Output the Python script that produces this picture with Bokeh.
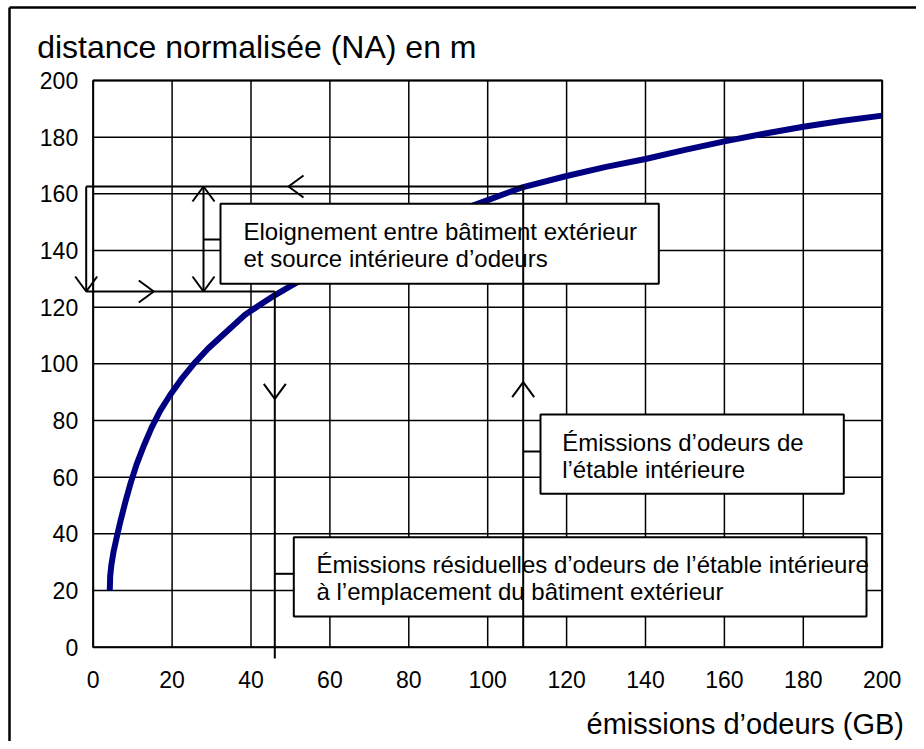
from bokeh.plotting import figure
from bokeh.models import Range1d, FixedTicker, Label
from bokeh.embed import file_html
from bokeh.resources import INLINE

# ---- data ----
emissions = [4.2, 4.3, 4.6, 5.2, 6.0, 7.0, 8.2, 9.5, 11.0, 12.8, 14.8, 17.0, 19.5,
             22.3, 25.5, 29.2, 33.5, 38.5, 42, 46, 50, 57, 65, 74, 84, 94, 100, 109,
             120, 130, 140, 150, 160, 170, 180, 190, 200]
distance = [20, 25, 29, 34, 39, 45, 51.5, 58, 64.5, 71, 77.5, 83.5, 89,
            94.5, 100, 105.5, 111, 117.3, 120.6, 124.2, 127.4, 133, 138.6, 144.2,
            149.6, 154.7, 157.8, 162.4, 166.3, 169.5, 172.3, 175.5, 178.5, 181.2,
            183.7, 185.8, 187.6]
x_ticks = [0, 20, 40, 60, 80, 100, 120, 140, 160, 180, 200]
y_ticks = [0, 20, 40, 60, 80, 100, 120, 140, 160, 180, 200]

title_text = "distance normalisée (NA) en m"
xlabel_text = "émissions d’odeurs (GB)"
box1_lines = ["Eloignement entre bâtiment extérieur", "et source intérieure d’odeurs"]
box2_lines = ["Émissions d’odeurs de", "l’étable intérieure"]
box3_lines = ["Émissions résiduelles d’odeurs de l’étable intérieure",
              "à l’emplacement du bâtiment extérieur"]

FONT = "Liberation Sans"
W, H = 916, 741

# pixel -> data helpers (layout only)
X0, XS, Y0, YS = 92.7, 3.945, 646.7, 2.8335
def dx(px):
    return (px - X0) / XS
def dy(py):
    return (Y0 - py) / YS

p = figure(width=W, height=H, x_range=Range1d(dx(0), dx(W)), y_range=Range1d(dy(H), dy(0)),
           output_backend="svg", toolbar_location=None, title=None, tools="",
           min_border_left=0, min_border_right=0, min_border_top=0, min_border_bottom=0)
p.background_fill_color = "white"
p.border_fill_color = "white"
p.outline_line_color = None
p.grid.visible = False

for ax, tk in ((p.xaxis[0], x_ticks), (p.yaxis[0], y_ticks)):
    ax.ticker = FixedTicker(ticks=tk)
    ax.fixed_location = 0
    ax.bounds = (0, 200)
    ax.major_tick_out = 0
    ax.major_tick_in = 0
    ax.minor_tick_out = 0
    ax.minor_tick_in = 0
    ax.axis_line_color = None
    ax.major_label_text_font = FONT
    ax.major_label_text_font_size = "23px"
    ax.major_label_text_color = "black"
p.xaxis[0].major_label_standoff = 24
p.yaxis[0].major_label_standoff = 15

# grid lines inside the 0..200 box
gx0 = [t for t in x_ticks] + [0 for t in y_ticks]
gx1 = [t for t in x_ticks] + [200 for t in y_ticks]
gy0 = [0 for t in x_ticks] + [t for t in y_ticks]
gy1 = [200 for t in x_ticks] + [t for t in y_ticks]
p.segment(gx0, gy0, gx1, gy1, line_color="black", line_width=1.5)

# curve
p.line(emissions, distance, line_color="#000080", line_width=6, line_join="round")

# plot-area border
p.quad(left=[0], right=[200], bottom=[0], top=[200], fill_color=None,
       line_color="black", line_width=2)

# boxes
bl = [dx(220), dx(540), dx(293.3)]
br = [dx(658.3), dx(843.3), dx(866)]
bt = [dy(203.3), dy(414), dy(536.7)]
bb = [dy(283.3), dy(493.3), dy(616)]
p.quad(left=bl, right=br, top=bt, bottom=bb, fill_color="white",
       line_color="black", line_width=2)

def lab(text, xp, yp, size="24px", baseline="middle"):
    p.add_layout(Label(x=dx(xp), y=dy(yp), text=text, text_font=FONT,
                       text_font_size=size, text_color="black",
                       text_align="left", text_baseline=baseline))

lab(box1_lines[0], 243, 231)
lab(box1_lines[1], 243, 258)
lab(box2_lines[0], 561.7, 441.7)
lab(box2_lines[1], 561.7, 469.3)
lab(box3_lines[0], 316, 564)
lab(box3_lines[1], 316, 590.7)
lab(title_text, 36.7, 46.7, size="32px", baseline="alphabetic")
lab(xlabel_text, 586, 723, size="29px", baseline="alphabetic")

sx0, sy0, sx1, sy1 = [], [], [], []
def seg(x0, y0, x1, y1):
    sx0.append(dx(x0)); sy0.append(dy(y0)); sx1.append(dx(x1)); sy1.append(dy(y1))

def head(xt, yt, d, hw=11, hl=15):
    if d == "down":
        seg(xt - hw, yt - hl, xt, yt); seg(xt + hw, yt - hl, xt, yt)
    elif d == "up":
        seg(xt - hw, yt + hl, xt, yt); seg(xt + hw, yt + hl, xt, yt)
    elif d == "left":
        seg(xt + hl, yt - hw, xt, yt); seg(xt + hl, yt + hw, xt, yt)
    else:
        seg(xt - hl, yt - hw, xt, yt); seg(xt - hl, yt + hw, xt, yt)

# guide lines
seg(85.7, 186, 522.7, 186)          # top horizontal
seg(522.7, 186, 522.7, 646.7)       # vertical at inner emissions
seg(85.7, 186, 85.7, 291)           # left vertical
seg(85.7, 291, 274.3, 291)          # lower horizontal
seg(274.3, 291, 274.3, 658)         # vertical at residual emissions
seg(203, 186, 203, 291)             # double arrow
seg(203, 239, 220, 239)             # connector box 1
seg(522.7, 451, 540, 451)           # connector box 2
seg(274.3, 573.3, 293.3, 573.3)     # connector box 3

head(288, 186, "left")
head(85.7, 291, "down")
head(153.3, 291, "right")
head(274.3, 398.3, "down")
head(203, 186, "up")
head(203, 291, "down")
head(522.7, 381.7, "up")

p.segment(sx0, sy0, sx1, sy1, line_color="black", line_width=2)

# outer frame (top and left edges visible)
p.segment([dx(9), dx(9)], [dy(7), dy(7)], [dx(W), dx(9)], [dy(7), dy(H)],
          line_color="black", line_width=2.5)

open("out.html", "w").write(file_html(p, INLINE))
